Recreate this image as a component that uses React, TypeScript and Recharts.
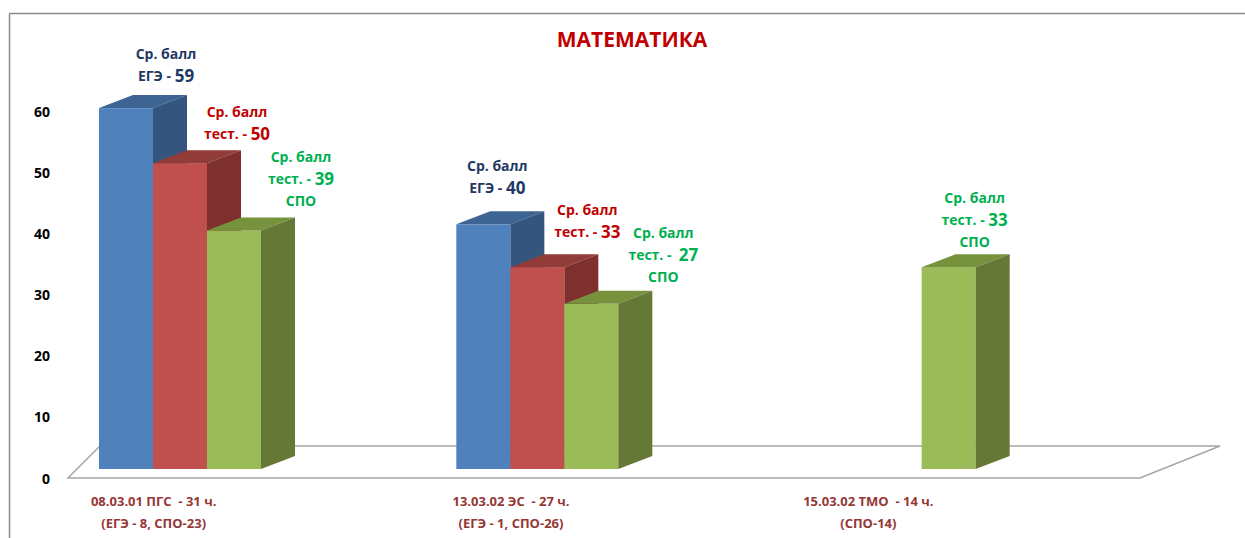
import React from 'react';
import { BarChart, Bar, XAxis, YAxis, LabelList } from 'recharts';

// ---- data ----
const categories = ['08.03.01 ПГС', '13.03.02 ЭС', '15.03.02 ТМО'];
const categoryLine1 = ['08.03.01 ПГС  - 31 ч.', '13.03.02 ЭС  - 27 ч.', '15.03.02 ТМО  - 14 ч.'];
const categoryLine2 = ['(ЕГЭ - 8, СПО-23)', '(ЕГЭ - 1, СПО-26)', '(СПО-14)'];
const egeScores: (number | null)[] = [59, 40, null];
const testScores: (number | null)[] = [50, 33, null];
const spoScores: (number | null)[] = [39, 27, 33];
const yTicks = [0, 10, 20, 30, 40, 50, 60];
const title = 'МАТЕМАТИКА';

const data = categories.map((c, i) => ({
  name: c,
  ege: egeScores[i],
  test: testScores[i],
  spo: spoScores[i],
}));

// ---- layout ----
const W = 1245;
const H = 538;
const MARGIN = { top: 102, right: 172, bottom: 29, left: 0 };
const PLOT_BOTTOM = H - MARGIN.bottom - 40; // 469
const DX = 34;
const DY = 13;
const FONT = '"Open Sans", "Noto Sans", "DejaVu Sans", sans-serif';

// label offsets: [dx from bar centre, dy of last line from bar top]
const LABEL_OFFSETS: Record<string, [number, number][]> = {
  ege: [[40, -33], [14, -37], [0, 0]],
  test: [[57, -30], [50, -36], [0, 0]],
  spo: [[67, -30], [72, -28], [26, -26]],
};

const COLORS = {
  ege: { front: '#4F81BD', top: '#3E6494', side: '#34557E', text: '#1F3864' },
  test: { front: '#C0504D', top: '#913C39', side: '#7D302E', text: '#C00000' },
  spo: { front: '#9BBB59', top: '#76923C', side: '#657836', text: '#00B050' },
};

const makeShape = (key: keyof typeof COLORS) => (props: any) => {
  const { x, y, width, height, payload } = props;
  if (payload == null || payload[key] == null || !width) return null;
  const c = COLORS[key];
  const w = width;
  const h = height;
  return (
    <g>
      <rect x={x} y={y} width={w} height={h} fill={c.front} />
      <polygon
        points={`${x},${y} ${x + DX},${y - DY} ${x + w + DX},${y - DY} ${x + w},${y}`}
        fill={c.top}
      />
      <polygon
        points={`${x + w},${y} ${x + w + DX},${y - DY} ${x + w + DX},${y + h - DY} ${x + w},${y + h}`}
        fill={c.side}
      />
    </g>
  );
};

const makeLabel = (key: keyof typeof COLORS) => (props: any) => {
  const { x, y, width, value, index } = props;
  if (value == null) return null;
  const off = LABEL_OFFSETS[key][index] || [0, 0];
  const cx = x + width / 2 + off[0];
  const lastY = y + off[1];
  const c = COLORS[key].text;
  const lines: React.ReactNode[] = [];
  lines.push(<tspan key="a">Ср. балл</tspan>);
  const prefix = key === 'ege' ? 'ЕГЭ - ' : key === 'spo' && index === 1 ? 'тест. -  ' : 'тест. - ';
  lines.push(
    <tspan key="b">
      {prefix}
      <tspan style={{ fontSize: 17 }}>{value}</tspan>
    </tspan>
  );
  if (key === 'spo') lines.push(<tspan key="c">СПО</tspan>);
  const n = lines.length;
  return (
    <g>
      {lines.map((l, i) => (
        <text
          key={i}
          x={cx}
          y={lastY - (n - 1 - i) * 22}
          textAnchor="middle"
          dominantBaseline="central"
          fill={c}
          style={{ fontFamily: FONT, fontWeight: 700, fontSize: 14, whiteSpace: 'pre' }}
        >
          {l}
        </text>
      ))}
    </g>
  );
};

const YTick = (props: any) => {
  const { y, payload } = props;
  return (
    <text
      x={50}
      y={y + 9}
      textAnchor="end"
      dominantBaseline="central"
      fill="#000"
      style={{ fontFamily: FONT, fontWeight: 700, fontSize: 14 }}
    >
      {payload.value}
    </text>
  );
};

const XTick = (props: any) => {
  const { x, index } = props;
  return (
    <g>
      <text
        x={x - 26}
        y={PLOT_BOTTOM + 32}
        textAnchor="middle"
        dominantBaseline="central"
        fill="#953735"
        style={{ fontFamily: FONT, fontWeight: 700, fontSize: 13, whiteSpace: 'pre' }}
      >
        {categoryLine1[index]}
      </text>
      <text
        x={x - 26}
        y={PLOT_BOTTOM + 54}
        textAnchor="middle"
        dominantBaseline="central"
        fill="#953735"
        style={{ fontFamily: FONT, fontWeight: 700, fontSize: 13, whiteSpace: 'pre' }}
      >
        {categoryLine2[index]}
      </text>
    </g>
  );
};

export default function App() {
  return (
    <div style={{ position: 'absolute', left: 0, top: 0, width: W, height: H, background: '#fff' }}>
      <svg width={W} height={H} style={{ position: 'absolute', left: 0, top: 0 }}>
        <line x1={9.5} y1={13.5} x2={W} y2={13.5} stroke="#8C8C8C" strokeWidth={1.5} />
        <line x1={9.5} y1={13.5} x2={9.5} y2={H} stroke="#8C8C8C" strokeWidth={1.5} />
        <polygon
          points={`68,${PLOT_BOTTOM + 9} 100,${PLOT_BOTTOM - 23} 1220,${PLOT_BOTTOM - 23} 1140,${PLOT_BOTTOM + 9}`}
          fill="#fff"
          stroke="#A6A6A6"
          strokeWidth={1.5}
        />
        <text
          x={632}
          y={39}
          textAnchor="middle"
          dominantBaseline="central"
          fill="#C00000"
          style={{ fontFamily: FONT, fontWeight: 700, fontSize: 21 }}
        >
          {title}
        </text>
      </svg>
      <div style={{ position: 'absolute', left: 0, top: 0 }}>
        <BarChart
          width={W}
          height={H}
          data={data}
          margin={MARGIN}
          barCategoryGap={98}
          barGap={0}
          style={{ background: 'transparent' }}
        >
          <XAxis
            dataKey="name"
            height={40}
            axisLine={false}
            tickLine={false}
            tick={<XTick />}
            interval={0}
          />
          <YAxis
            width={1}
            domain={[0, 60]}
            ticks={yTicks}
            axisLine={false}
            tickLine={false}
            tick={<YTick />}
            interval={0}
          />
          <Bar dataKey="ege" shape={makeShape('ege')} isAnimationActive={false}>
            <LabelList dataKey="ege" content={makeLabel('ege')} />
          </Bar>
          <Bar dataKey="test" shape={makeShape('test')} isAnimationActive={false}>
            <LabelList dataKey="test" content={makeLabel('test')} />
          </Bar>
          <Bar dataKey="spo" shape={makeShape('spo')} isAnimationActive={false}>
            <LabelList dataKey="spo" content={makeLabel('spo')} />
          </Bar>
        </BarChart>
      </div>
    </div>
  );
}
